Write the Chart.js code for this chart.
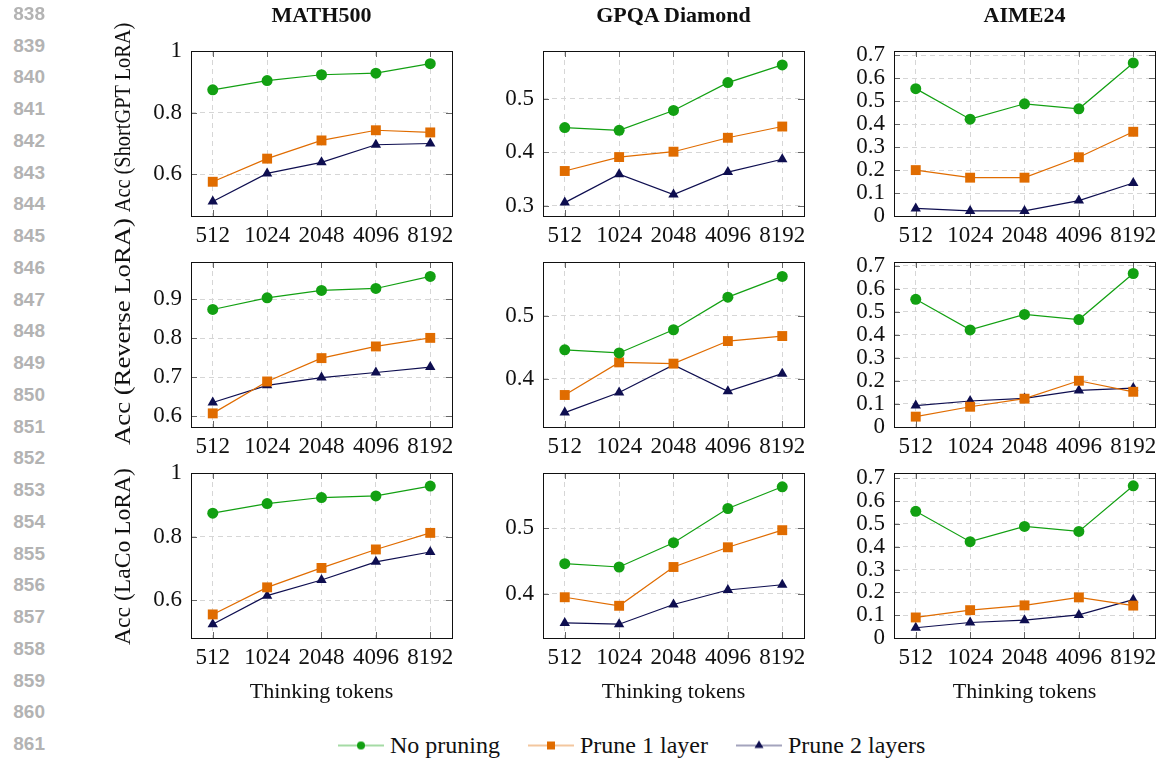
<!DOCTYPE html>
<html>
<head>
<meta charset="utf-8">
<script src="https://cdn.jsdelivr.net/npm/chart.js@4"></script>
<style>
  html, body { margin: 0; padding: 0; background: #fff; }
  body { width: 1160px; height: 761px; position: relative; overflow: hidden; font-family: 'Liberation Serif', serif; }
  canvas.panel { position: absolute; }
  .txt { position: absolute; white-space: nowrap; color: #111; transform: translate(-50%, -50%); }
  .coltitle { font-weight: bold; font-size: 22px; }
  .xtitle { font-size: 22px; }
  .ytitle { position: absolute; white-space: nowrap; font-size: 24px; color: #111; transform-origin: 50% 50%; }
  .lineno { position: absolute; left: 0; width: 45px; text-align: right; font: bold 19px 'Liberation Sans', sans-serif; color: #b3b3b3; transform: translateY(-50%); }
  #legend { position: absolute; left: 338px; top: 745px; transform: translateY(-50%); display: flex; align-items: center; font-size: 24px; color: #111; }
  #legend .item { display: flex; align-items: center; margin-right: 28px; }
  #legend canvas { margin-right: 6px; }
</style>
</head>
<body>
<script>
// x categories and labels
const tokens = ['512', '1024', '2048', '4096', '8192'];
const benchmarks = ['MATH500', 'GPQA Diamond', 'AIME24'];
const loraNames = ['Acc (ShortGPT LoRA)', 'Acc (Reverse LoRA)', 'Acc (LaCo LoRA)'];
const seriesNames = ['No pruning', 'Prune 1 layer', 'Prune 2 layers'];

// no pruning baseline (same in every row)
const mathNoPrune = [0.874, 0.904, 0.923, 0.928, 0.959];
const gpqaNoPrune = [0.446, 0.441, 0.478, 0.530, 0.563];
const aimeNoPrune = [0.555, 0.422, 0.489, 0.467, 0.667];

// ShortGPT LoRA
const mathShortP1 = [0.576, 0.651, 0.710, 0.743, 0.736];
const mathShortP2 = [0.512, 0.603, 0.639, 0.696, 0.700];
const gpqaShortP1 = [0.365, 0.391, 0.401, 0.427, 0.448];
const gpqaShortP2 = [0.306, 0.359, 0.321, 0.363, 0.387];
const aimeShortP1 = [0.200, 0.167, 0.167, 0.256, 0.367];
const aimeShortP2 = [0.033, 0.022, 0.022, 0.067, 0.144];

// Reverse LoRA
const mathRevP1 = [0.607, 0.689, 0.749, 0.779, 0.801];
const mathRevP2 = [0.635, 0.679, 0.699, 0.712, 0.726];
const gpqaRevP1 = [0.374, 0.426, 0.424, 0.460, 0.468];
const gpqaRevP2 = [0.346, 0.378, 0.422, 0.380, 0.408];
const aimeRevP1 = [0.045, 0.088, 0.123, 0.201, 0.153];
const aimeRevP2 = [0.093, 0.113, 0.124, 0.159, 0.169];

// LaCo LoRA
const mathLacoP1 = [0.556, 0.641, 0.702, 0.760, 0.812];
const mathLacoP2 = [0.525, 0.615, 0.664, 0.721, 0.752];
const gpqaLacoP1 = [0.395, 0.382, 0.441, 0.471, 0.497];
const gpqaLacoP2 = [0.356, 0.354, 0.384, 0.406, 0.414];
const aimeLacoP1 = [0.090, 0.122, 0.143, 0.178, 0.142];
const aimeLacoP2 = [0.045, 0.068, 0.078, 0.101, 0.168];

// y tick labels
const mathTicksWide = [0.6, 0.8, 1];
const mathTicksRev = [0.6, 0.7, 0.8, 0.9];
const gpqaTicksShort = [0.3, 0.4, 0.5];
const gpqaTicks = [0.4, 0.5];
const aimeTicks = [0, 0.1, 0.2, 0.3, 0.4, 0.5, 0.6, 0.7];

const colors = ['#12a012', '#e06c00', '#0e0e50'];
const markers = ['circle', 'rect', 'triangle'];
const markerSize = [5.5, 7, 6];

// plot box geometry
const colLeft = [191, 543, 894];
const rowTop = [51, 262, 473];
const plotW = 261, plotH = 165;

const panels = [
  {r: 0, c: 0, data: [mathNoPrune, mathShortP1, mathShortP2], ticks: mathTicksWide, min: 0.465, max: 1.0},
  {r: 0, c: 1, data: [gpqaNoPrune, gpqaShortP1, gpqaShortP2], ticks: gpqaTicksShort, min: 0.281, max: 0.589},
  {r: 0, c: 2, data: [aimeNoPrune, aimeShortP1, aimeShortP2], ticks: aimeTicks, min: 0, max: 0.719},
  {r: 1, c: 0, data: [mathNoPrune, mathRevP1, mathRevP2], ticks: mathTicksRev, min: 0.572, max: 0.996},
  {r: 1, c: 1, data: [gpqaNoPrune, gpqaRevP1, gpqaRevP2], ticks: gpqaTicks, min: 0.323, max: 0.586},
  {r: 1, c: 2, data: [aimeNoPrune, aimeRevP1, aimeRevP2], ticks: aimeTicks, min: 0, max: 0.717},
  {r: 2, c: 0, data: [mathNoPrune, mathLacoP1, mathLacoP2], ticks: mathTicksWide, min: 0.482, max: 1.0},
  {r: 2, c: 1, data: [gpqaNoPrune, gpqaLacoP1, gpqaLacoP2], ticks: gpqaTicks, min: 0.333, max: 0.584},
  {r: 2, c: 2, data: [aimeNoPrune, aimeLacoP1, aimeLacoP2], ticks: aimeTicks, min: 0, max: 0.723}
];

const tickFont = {family: 'Liberation Serif', size: 23};

// box around plot area plus small inward tick marks
const framePlugin = {
  id: 'frame',
  beforeDatasetsDraw(chart) {
    const {ctx, chartArea: a, scales: {x, y}} = chart;
    ctx.save();
    ctx.strokeStyle = '#666';
    ctx.lineWidth = 1;
    ctx.beginPath();
    y.ticks.forEach(t => {
      const py = Math.round(y.getPixelForValue(t.value)) + 0.5;
      ctx.moveTo(a.left, py); ctx.lineTo(a.left + 6, py);
      ctx.moveTo(a.right, py); ctx.lineTo(a.right - 6, py);
    });
    x.ticks.forEach(t => {
      const px = Math.round(x.getPixelForValue(t.value)) + 0.5;
      ctx.moveTo(px, a.top); ctx.lineTo(px, a.top + 6);
      ctx.moveTo(px, a.bottom); ctx.lineTo(px, a.bottom - 6);
    });
    ctx.stroke();
    ctx.strokeStyle = '#111';
    ctx.strokeRect(Math.round(a.left) + 0.5, Math.round(a.top) + 0.5, Math.round(a.width), Math.round(a.height));
    ctx.restore();
  }
};

panels.forEach(p => {
  const canvas = document.createElement('canvas');
  canvas.className = 'panel';
  canvas.width = plotW + 100;
  canvas.height = plotH + 75;
  canvas.style.left = (colLeft[p.c] - 70) + 'px';
  canvas.style.top = (rowTop[p.r] - 30) + 'px';
  document.body.appendChild(canvas);

  new Chart(canvas.getContext('2d'), {
    type: 'line',
    data: {
      datasets: p.data.map((vals, i) => ({
        label: seriesNames[i],
        data: vals.map((v, k) => ({x: k, y: v})),
        borderColor: colors[i],
        backgroundColor: colors[i],
        borderWidth: 1.2,
        pointStyle: markers[i],
        pointRadius: markerSize[i],
        pointBorderWidth: 0,
        pointBackgroundColor: colors[i],
        tension: 0,
        clip: false
      }))
    },
    options: {
      responsive: false,
      animation: false,
      events: [],
      layout: {padding: {top: 30, right: 30, left: 0, bottom: 0}},
      plugins: {legend: {display: false}, tooltip: {enabled: false}},
      scales: {
        x: {
          type: 'linear',
          min: -0.4,
          max: 4.4,
          afterBuildTicks: s => { s.ticks = tokens.map((t, i) => ({value: i})); },
          afterFit: s => { s.height = 45; },
          grid: {color: '#d6d6d6', drawTicks: false},
          border: {display: false, dash: [5, 4]},
          ticks: {padding: 6, autoSkip: false, maxRotation: 0, color: '#111', font: tickFont,
                  callback: v => tokens[v]}
        },
        y: {
          min: p.min,
          max: p.max,
          afterBuildTicks: s => { s.ticks = p.ticks.map(v => ({value: v})); },
          afterFit: s => { s.width = 70; },
          grid: {color: '#d6d6d6', drawTicks: false},
          border: {display: false, dash: [5, 4]},
          ticks: {padding: 9, autoSkip: false, color: '#111', font: tickFont,
                  callback: v => String(+v.toFixed(2))}
        }
      }
    },
    plugins: [framePlugin]
  });
});

function addText(text, cx, cy, cls) {
  const d = document.createElement('div');
  d.className = 'txt ' + cls;
  d.textContent = text;
  d.style.left = cx + 'px';
  d.style.top = cy + 'px';
  document.body.appendChild(d);
}

// column titles and x axis titles
benchmarks.forEach((b, c) => {
  addText(b, colLeft[c] + plotW / 2, 15, 'coltitle');
  addText('Thinking tokens', colLeft[c] + plotW / 2, 691, 'xtitle');
});

// rotated y titles (they run into each other like the original)
const yTitleSpans = [[22, 212], [218, 445], [468, 645]];
loraNames.forEach((name, r) => {
  const d = document.createElement('div');
  d.className = 'ytitle';
  d.textContent = name;
  document.body.appendChild(d);
  const w = d.offsetWidth, h = d.offsetHeight;
  const [y0, y1] = yTitleSpans[r];
  d.style.left = (123 - w / 2) + 'px';
  d.style.top = ((y0 + y1) / 2 - h / 2) + 'px';
  d.style.transform = `rotate(-90deg) scaleX(${(y1 - y0) / w})`;
});

// page line numbers
for (let i = 0; i < 24; i++) {
  const d = document.createElement('div');
  d.className = 'lineno';
  d.textContent = 838 + i;
  d.style.top = (14 + i * 31.74) + 'px';
  document.body.appendChild(d);
}

// legend
const legend = document.createElement('div');
legend.id = 'legend';
seriesNames.forEach((name, i) => {
  const item = document.createElement('div');
  item.className = 'item';
  const c = document.createElement('canvas');
  c.width = 46; c.height = 20;
  const g = c.getContext('2d');
  g.strokeStyle = colors[i];
  g.globalAlpha = 0.75;
  g.lineWidth = 1.2;
  g.beginPath(); g.moveTo(0, 10); g.lineTo(46, 10); g.stroke();
  g.globalAlpha = 1;
  g.fillStyle = colors[i];
  g.beginPath();
  if (markers[i] === 'circle') g.arc(23, 10, 4, 0, Math.PI * 2);
  else if (markers[i] === 'rect') g.rect(19, 6, 8, 8);
  else { g.moveTo(23, 5); g.lineTo(27.5, 12.5); g.lineTo(18.5, 12.5); g.closePath(); }
  g.fill();
  const t = document.createElement('span');
  t.textContent = name;
  item.appendChild(c);
  item.appendChild(t);
  legend.appendChild(item);
});
document.body.appendChild(legend);
</script>
</body>
</html>
